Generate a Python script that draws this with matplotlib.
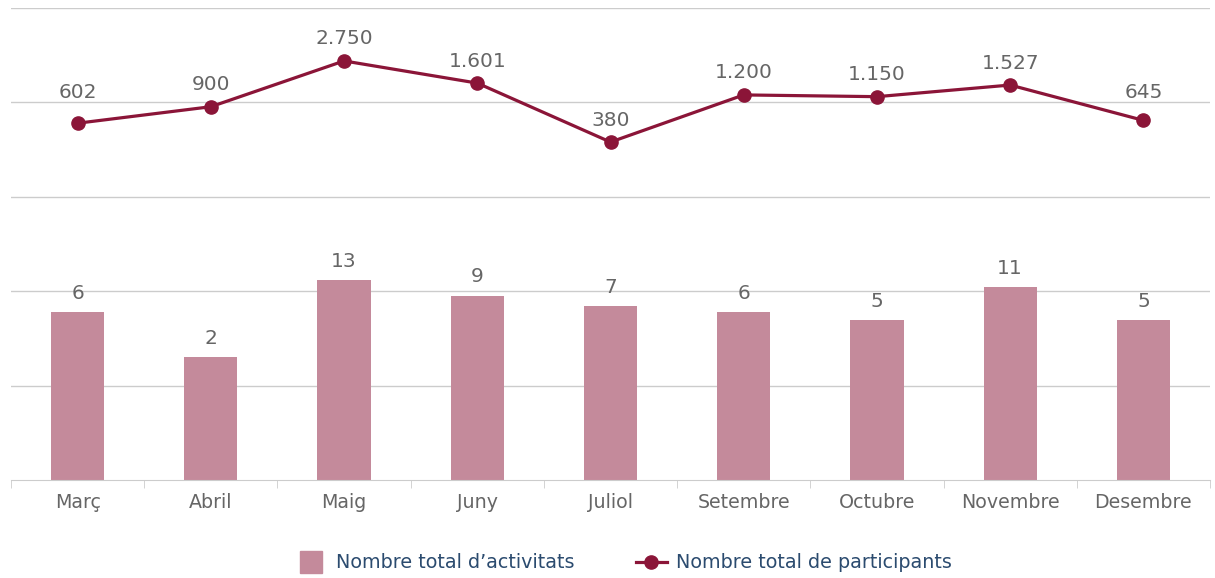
import matplotlib
matplotlib.use("Agg")
import matplotlib.pyplot as plt
from matplotlib.lines import Line2D
import numpy as np

months = ["Març", "Abril", "Maig", "Juny", "Juliol", "Setembre", "Octubre", "Novembre", "Desembre"]
activitats = [6, 2, 13, 9, 7, 6, 5, 11, 5]
participants = [602, 900, 2750, 1601, 380, 1200, 1150, 1527, 645]
part_labels = ["602", "900", "2.750", "1.601", "380", "1.200", "1.150", "1.527", "645"]

bar_color = "#C48A9B"
line_color = "#8B1538"
text_gray = "#666666"
grid_color = "#CCCCCC"

fig = plt.figure(figsize=(12.15, 5.78), dpi=100)
ax = fig.add_axes([11/1215, 1-480/578, 1199/1215, 472/578])

x = np.arange(len(months))
ax.bar(x, activitats, width=0.4, color=bar_color, zorder=2)
ax.plot(x, participants, color=line_color, lw=2.3, marker="o", ms=9.5, zorder=3)

ax.set_yscale("log")
ax.set_ylim(0.1, 10000)
ax.set_xlim(-0.5, len(months)-0.5)
ax.set_yticks([1, 10, 100, 1000, 10000])
ax.yaxis.set_minor_locator(matplotlib.ticker.NullLocator())
ax.tick_params(axis="y", left=False, labelleft=False)
ax.grid(axis="y", color=grid_color, lw=1, zorder=0)

ax.set_xticks(x)
ax.set_xticklabels(months, color=text_gray, fontsize=13.7)
ax.tick_params(axis="x", length=0, pad=9)
ax.set_xticks(np.arange(-0.5, len(months)), minor=True)
ax.tick_params(axis="x", which="minor", length=6, color=grid_color)

for s in ["top", "left", "right"]:
    ax.spines[s].set_visible(False)
ax.spines["bottom"].set_color(grid_color)

for xi, v in zip(x, activitats):
    ax.annotate(str(v), (xi, v), xytext=(0, 6.5), textcoords="offset points",
                ha="center", va="bottom", color=text_gray, fontsize=14.5)

# label placement: labels that would cross a gridline are nudged upward
line_offsets = [15.5, 9, 9, 9, 9, 9, 9, 9, 13.5]
for xi, v, lab, off in zip(x, participants, part_labels, line_offsets):
    ax.annotate(lab, (xi, v), xytext=(0, off), textcoords="offset points",
                ha="center", va="bottom", color=text_gray, fontsize=14.5)

handles = [Line2D([0], [0], color=bar_color, marker="s", ms=16, lw=0),
           Line2D([0], [0], color=line_color, lw=2.3, marker="o", ms=9.5)]
labels = ["Nombre total d\u2019activitats", "Nombre total de participants"]
leg = fig.legend(handles, labels, loc="center", bbox_to_anchor=(624/1215, 1-563/578),
                 ncol=2, frameon=False, fontsize=13.8, handlelength=1.6, columnspacing=3.2,
                 handletextpad=0.5)
for t in leg.get_texts():
    t.set_color("#2B4B6F")

fig.savefig("out.png", dpi=100)
